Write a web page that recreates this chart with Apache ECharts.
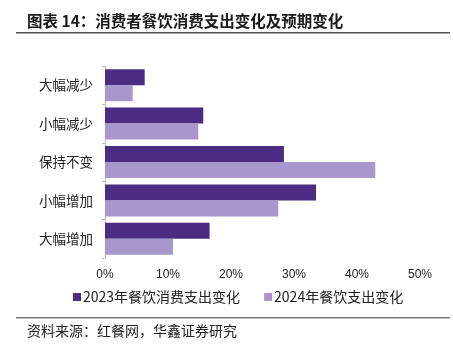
<!DOCTYPE html>
<html><head><meta charset="utf-8">
<script src="https://cdn.jsdelivr.net/npm/echarts@6/dist/echarts.min.js"></script>
<style>html,body{margin:0;padding:0;background:#fff}#c{width:453px;height:348px}</style>
</head><body><div id="c"></div>
<script>
var categories = ['大幅减少','小幅减少','保持不变','小幅增加','大幅增加'];
var series2023 = [6.3, 15.6, 28.4, 33.5, 16.6];
var series2024 = [4.4, 14.8, 42.9, 27.5, 10.8];
var xTicks = [0, 10, 20, 30, 40, 50];
var name2023 = '2023年餐饮消费支出变化';
var name2024 = '2024年餐饮支出变化';
var font = '"Noto Sans CJK SC", "Liberation Sans", sans-serif';
var chart = echarts.init(document.getElementById('c'));
chart.setOption({
  animation: false,
  textStyle: {fontFamily: font},
  graphic: [
    {type:'text', left:27, top:13, style:{text:'图表 14：消费者餐饮消费支出变化及预期变化', font:'bold 15.5px ' + font, fill:'#1a1a1a'}},
    {type:'rect', shape:{x:16, y:32, width:434, height:1.5}, style:{fill:'#555'}},
    {type:'rect', shape:{x:16, y:317, width:434, height:1.5}, style:{fill:'#777'}},
    {type:'text', left:27, top:324, style:{text:'资料来源：红餐网，华鑫证券研究', font:'14px ' + font, fill:'#222'}}
  ],
  grid: {left:105, right:33, top:66, bottom:90, containLabel:false},
  legend: {
    left:68, top:285, itemWidth:8, itemHeight:8, itemGap:24, icon:'rect',
    textStyle:{fontSize:14, color:'#222', fontFamily:font, padding:[0,0,0,-3]},
    data:[name2023, name2024]
  },
  xAxis: {
    type:'value', min:0, max:50, interval:10,
    axisLine:{show:false}, axisTick:{show:false}, splitLine:{show:false},
    axisLabel:{formatter:function(v){return xTicks.indexOf(v)>=0 ? v+'%' : '';}, fontSize:12, color:'#222', margin:11, fontFamily:'"Liberation Sans", sans-serif'}
  },
  yAxis: {
    type:'category', data:categories, inverse:true,
    axisLine:{show:true, lineStyle:{color:'#bbb', width:1}},
    axisTick:{show:true, inside:false, length:3, lineStyle:{color:'#bbb'}},
    axisLabel:{fontSize:13.5, color:'#222', margin:12, fontFamily:font}
  },
  series: [
    {name:name2023, type:'bar', data:series2023, barWidth:16, barGap:'0%', itemStyle:{color:'#4B2C82'}},
    {name:name2024, type:'bar', data:series2024, barWidth:16, barGap:'0%', itemStyle:{color:'#A797CD'}}
  ]
});
</script></body></html>
